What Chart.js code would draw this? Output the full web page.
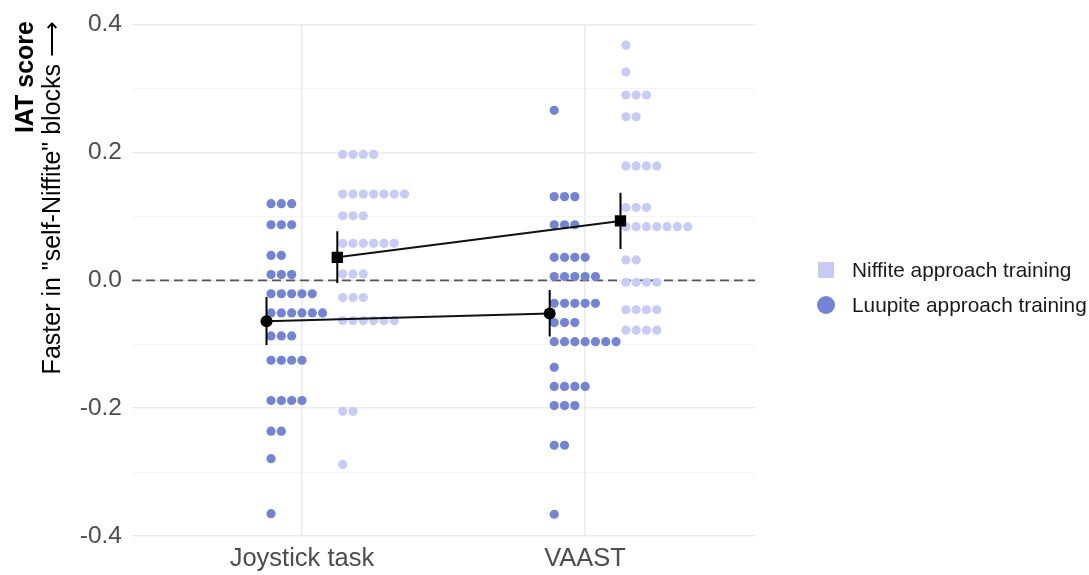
<!DOCTYPE html>
<html>
<head>
<meta charset="utf-8">
<script src="https://cdn.jsdelivr.net/npm/chart.js@4.4.1/dist/chart.umd.min.js"></script>
<style>
    html, body { margin: 0; padding: 0; background: #fff; }
    #wrap { width: 1089px; height: 575px; position: relative; }
</style>
</head>
<body>
<div id="wrap"><canvas id="iatChart"></canvas></div>
<script>
// IAT score dot plot

const categories = ['Joystick task', 'VAAST'];
const yTicks = [-0.4, -0.2, 0.0, 0.2, 0.4];
const yTitleMain = 'IAT score';
const yTitleSub = 'Faster in "self-Niffite" blocks \u27F6';

// dot rows: bin value and how many dots are stacked in it
const joyLuupiteRows = [0.120, 0.087, 0.039, 0.009, -0.021, -0.051, -0.087, -0.125, -0.188, -0.236, -0.279, -0.365];
const joyLuupiteCounts = [3, 3, 2, 3, 5, 6, 3, 4, 4, 2, 1, 1];
const joyNiffiteRows = [0.197, 0.135, 0.101, 0.058, 0.010, -0.027, -0.063, -0.205, -0.288];
const joyNiffiteCounts = [4, 7, 3, 6, 3, 3, 6, 2, 1];
const vaastLuupiteRows = [0.266, 0.131, 0.087, 0.036, 0.006, -0.036, -0.066, -0.096, -0.136, -0.166, -0.196, -0.258, -0.366];
const vaastLuupiteCounts = [1, 3, 3, 4, 5, 5, 3, 7, 1, 4, 3, 2, 1];
const vaastNiffiteRows = [0.368, 0.326, 0.290, 0.256, 0.179, 0.114, 0.084, 0.032, -0.003, -0.046, -0.078];
const vaastNiffiteCounts = [1, 1, 3, 2, 4, 3, 7, 2, 4, 4, 4];

// means with their error bars (Joystick, VAAST)
const luupiteMean = [-0.064, -0.052];
const luupiteLow = [-0.101, -0.088];
const luupiteHigh = [-0.026, -0.015];
const niffiteMean = [0.036, 0.093];
const niffiteLow = [-0.004, 0.049];
const niffiteHigh = [0.077, 0.137];

const luupiteColor = '#7383D6';
const niffiteColor = '#C6CCF5';
const FONT = '"Liberation Sans", Arial, sans-serif';

// horizontal layout of the dot stacks (in x units, category = 1, 2)
const DOT_STEP = 0.0364;
const LUUPITE_START = -0.109;
const NIFFITE_START = 0.144;
const MEAN_SHIFT = 0.125;

function stackDots(catIndex, rows, counts, start) {
    const pts = [];
    rows.forEach((v, i) => {
        for (let k = 0; k < counts[i]; k++) {
            pts.push({ x: catIndex + 1 + start + k * DOT_STEP, y: v });
        }
    });
    return pts;
}

function meanPoints(means, shift) {
    return means.map((m, i) => ({ x: i + 1 + shift, y: m }));
}

function errorBar(i, shift, low, high) {
    return {
        data: [{ x: i + 1 + shift, y: low[i] }, { x: i + 1 + shift, y: high[i] }],
        showLine: true,
        borderColor: '#000',
        borderWidth: 2,
        pointRadius: 0,
        order: 1
    };
}

function isMajor(v) {
    return yTicks.some(t => Math.abs(t - v) < 1e-9);
}

// y title and legend drawn on the canvas
const extrasPlugin = {
    id: 'extras',
    afterDraw(chart) {
        const ctx = chart.ctx;
        ctx.save();
        ctx.fillStyle = '#000';
        ctx.textAlign = 'right';
        ctx.textBaseline = 'middle';
        ctx.translate(26, 21);
        ctx.rotate(-Math.PI / 2);
        ctx.font = 'bold 25px ' + FONT;
        ctx.fillText(yTitleMain, 0, 0);
        ctx.font = '25px ' + FONT;
        ctx.fillText(yTitleSub, 0, 27);
        ctx.restore();

        // legend
        const ds = chart.data.datasets;
        ctx.save();
        ctx.font = '20.8px ' + FONT;
        ctx.textBaseline = 'middle';
        ctx.textAlign = 'left';
        ctx.fillStyle = ds[0].backgroundColor;
        ctx.fillRect(818, 262, 16, 16);
        ctx.fillStyle = ds[1].backgroundColor;
        ctx.beginPath();
        ctx.arc(826, 305, 9, 0, Math.PI * 2);
        ctx.fill();
        ctx.fillStyle = '#1A1A1A';
        ctx.fillText(ds[0].label, 852, 271);
        ctx.fillText(ds[1].label, 852, 306);
        ctx.restore();
    }
};

const ctx = document.getElementById('iatChart');

new Chart(ctx, {
    type: 'scatter',
    data: {
        datasets: [
            {
                label: 'Niffite approach training',
                data: stackDots(0, joyNiffiteRows, joyNiffiteCounts, NIFFITE_START)
                    .concat(stackDots(1, vaastNiffiteRows, vaastNiffiteCounts, NIFFITE_START)),
                backgroundColor: niffiteColor,
                borderWidth: 0,
                pointRadius: 4.6,
                order: 2
            },
            {
                label: 'Luupite approach training',
                data: stackDots(0, joyLuupiteRows, joyLuupiteCounts, LUUPITE_START)
                    .concat(stackDots(1, vaastLuupiteRows, vaastLuupiteCounts, LUUPITE_START)),
                backgroundColor: luupiteColor,
                borderWidth: 0,
                pointRadius: 4.6,
                order: 2
            },
            {
                data: meanPoints(luupiteMean, -MEAN_SHIFT),
                showLine: true,
                borderColor: '#111',
                borderWidth: 2,
                pointStyle: 'circle',
                pointRadius: 6,
                pointBackgroundColor: '#000',
                pointBorderWidth: 0,
                order: 0
            },
            {
                data: meanPoints(niffiteMean, MEAN_SHIFT),
                showLine: true,
                borderColor: '#111',
                borderWidth: 2,
                pointStyle: 'rect',
                pointRadius: 8,
                pointBackgroundColor: '#000',
                pointBorderWidth: 0,
                order: 0
            },
            errorBar(0, -MEAN_SHIFT, luupiteLow, luupiteHigh),
            errorBar(1, -MEAN_SHIFT, luupiteLow, luupiteHigh),
            errorBar(0, MEAN_SHIFT, niffiteLow, niffiteHigh),
            errorBar(1, MEAN_SHIFT, niffiteLow, niffiteHigh),
            {
                // dashed zero line
                data: [{ x: 0.4, y: 0 }, { x: 2.6, y: 0 }],
                showLine: true,
                borderColor: '#555',
                borderWidth: 1.8,
                borderDash: [9, 5],
                pointRadius: 0,
                order: 3
            }
        ]
    },
    options: {
        responsive: true,
        maintainAspectRatio: false,
        animation: false,
        events: [],
        layout: {
            padding: { top: 23, right: 334, bottom: 0, left: 0 }
        },
        plugins: {
            legend: { display: false },
            tooltip: { enabled: false }
        },
        scales: {
            x: {
                type: 'linear',
                min: 0.4,
                max: 2.6,
                afterBuildTicks: axis => {
                    axis.ticks = categories.map((c, i) => ({ value: i + 1 }));
                },
                afterFit: axis => { axis.height = 39; },
                ticks: {
                    callback: v => categories[Math.round(v) - 1] || '',
                    color: '#4D4D4D',
                    font: { family: FONT, size: 25.5 },
                    padding: 8,
                    maxRotation: 0,
                    autoSkip: false
                },
                grid: { color: '#EBEBEB', lineWidth: 1.5, drawTicks: false },
                border: { display: false }
            },
            y: {
                min: -0.4,
                max: 0.4,
                afterFit: axis => { axis.width = 132; },
                ticks: {
                    stepSize: 0.1,
                    callback: v => isMajor(v) ? v.toFixed(1) : '',
                    color: '#4D4D4D',
                    font: { family: FONT, size: 24.5 },
                    padding: 10
                },
                grid: {
                    color: c => isMajor(c.tick.value) ? '#EBEBEB' : '#F3F3F3',
                    lineWidth: c => isMajor(c.tick.value) ? 1.5 : 0.9,
                    drawTicks: false
                },
                border: { display: false }
            }
        }
    },
    plugins: [extrasPlugin]
});
</script>
</body>
</html>
